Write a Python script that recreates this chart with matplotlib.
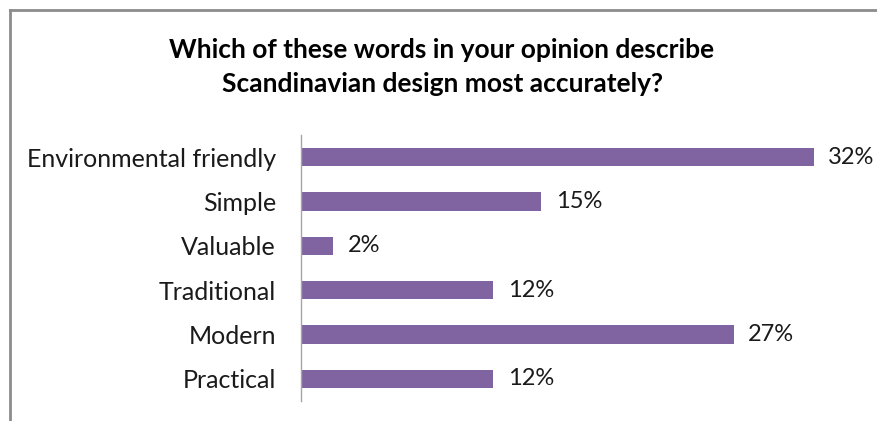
import matplotlib
matplotlib.use('Agg')
import matplotlib.pyplot as plt
from matplotlib.lines import Line2D

# data
categories = ['Environmental friendly', 'Simple', 'Valuable', 'Traditional', 'Modern', 'Practical']
values = [32, 15, 2, 12, 27, 12]
title = 'Which of these words in your opinion describe\nScandinavian design most accurately?'

BAR = '#8064A2'
W, H = 878, 421

plt.rcParams['font.family'] = ['Lato', 'DejaVu Sans']

fig = plt.figure(figsize=(W / 100, H / 100), dpi=100)
fig.patch.set_facecolor('white')

# chart frame (only top and left visible in the crop)
fig.add_artist(Line2D([10.5 / W, 10.5 / W], [0, 1 - 9.5 / H], transform=fig.transFigure,
                      color='#8c8c8c', lw=2))
fig.add_artist(Line2D([10.5 / W, 1], [1 - 9.5 / H, 1 - 9.5 / H], transform=fig.transFigure,
                      color='#8c8c8c', lw=2))

ax = fig.add_axes([301 / W, (H - 401) / H, 561 / W, 266 / H])
y = list(range(len(categories)))
ax.barh(y, values, height=0.41, color=BAR)
ax.set_ylim(len(categories) - 0.5, -0.5)
ax.set_xlim(0, 35)

for yi, v in zip(y, values):
    ax.text(v + 0.9, yi, f'{v}%', va='center', ha='left', fontsize=17, color='#1a1a1a')

ax.set_yticks(y)
ax.set_yticklabels(categories, fontsize=18, color='#1a1a1a')
ax.tick_params(axis='y', length=0, pad=18)
ax.set_xticks([])
for s in ['top', 'right', 'bottom']:
    ax.spines[s].set_visible(False)
ax.spines['left'].set_color('#a6a6a6')
ax.spines['left'].set_linewidth(1)

fig.text(442 / W, 1 - 67 / H, title, ha='center', va='center', fontsize=19,
         fontweight='bold', color='black', linespacing=1.5)

fig.savefig('out.png', dpi=100)
